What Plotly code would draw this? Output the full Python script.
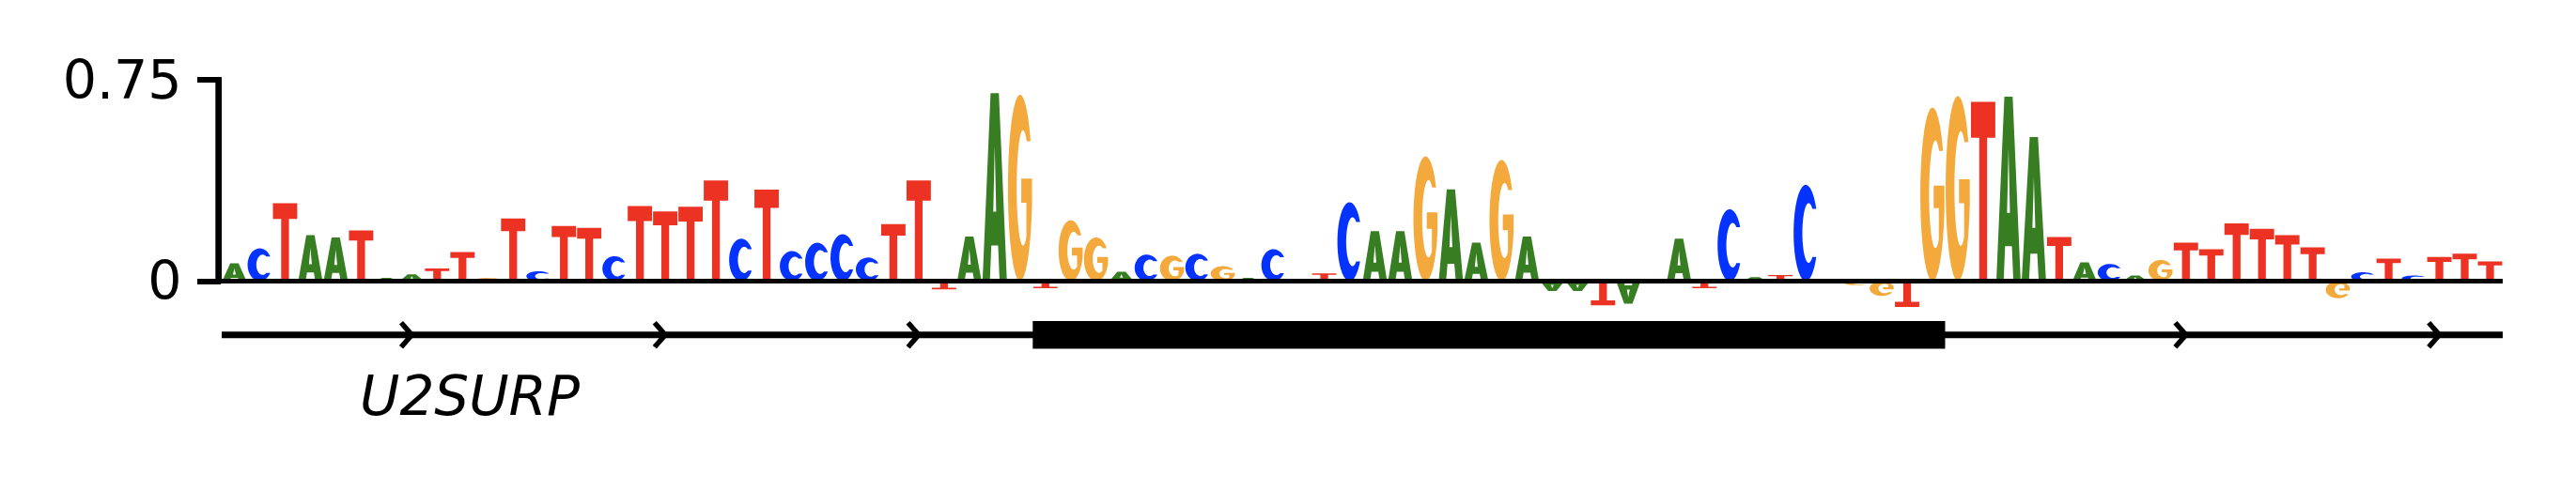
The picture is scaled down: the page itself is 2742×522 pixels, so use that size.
import numpy as np
import plotly.graph_objects as go

# ---------------- data ----------------
SEQUENCE = list("ACTAATAATT" "GTCTTCTTTT" "CTCCCCTTTA" "AGTGGACGCG" "ACGTCAAGAA"
                "GAAATAGATC" "ATCTGGTGGT" "AATACAGTTT" "TTTGCTCTTT")
SCORES = [0.066, 0.122, 0.29, 0.171, 0.163, 0.189, 0.012, 0.025, 0.047, 0.108,
          0.012, 0.233, 0.037, 0.205, 0.198, 0.093, 0.28, 0.26, 0.277, 0.375,
          0.158, 0.341, 0.112, 0.143, 0.175, 0.088, 0.212, 0.375, -0.031, 0.166,
          0.70, 0.695, -0.026, 0.227, 0.163, 0.035, 0.099, 0.095, 0.102, 0.056,
          0.012, 0.119, 0.008, 0.029, 0.294, 0.186, 0.186, 0.465, 0.342, 0.143,
          0.452, 0.166, -0.037, -0.037, -0.09, -0.084, 0.008, 0.158, -0.026, 0.268,
          0.015, 0.023, 0.359, -0.005, -0.015, -0.055, -0.096, 0.647, 0.69, 0.668,
          0.687, 0.537, 0.164, 0.07, 0.064, 0.021, 0.079, 0.143, 0.119, 0.215,
          0.195, 0.171, 0.126, -0.064, 0.033, 0.084, 0.021, 0.09, 0.102, 0.073]
POSITIONS = list(range(len(SEQUENCE)))
Y_TICKS = [0, 0.75]
Y_TICK_LABELS = ["0", "0.75"]
GENE_NAME = "U2SURP"
EXON_FIRST, EXON_LAST = 32, 67          # exon spans these logo positions
INTRON_ARROWS = [7, 17, 27, 77, 87]      # strand arrows (+ strand)
GENE_LABEL_X = 9.3

# ---------------- style ----------------
COLORS = {"A": "#377d22", "C": "#0433ff", "G": "#f3a93c", "T": "#eb3223"}
FONT = "DejaVu Sans"
PAGE_MARGIN = 8                      # default body margin of the html page
W, H = 2742 - 2 * PAGE_MARGIN, 522 - 2 * PAGE_MARGIN
ML = 236 - PAGE_MARGIN
PLOT_W = 2428
MR = W - ML - PLOT_W
PX_PER_UNIT = 286.0
ZERO_PX = 299.5 - PAGE_MARGIN
Y_TOP = ZERO_PX / PX_PER_UNIT
Y_BOT = -(H - ZERO_PX) / PX_PER_UNIT
PAD = 0.02


def arc(cx, cy, rx, ry, a0, a1, n=32):
    t = np.radians(np.linspace(a0, a1, n))
    return list(zip(cx + rx * np.cos(t), cy + ry * np.sin(t)))


# glyph templates in a unit box (first polygon outer, others holes)
GLYPHS = {
    "T": [[(0, 1), (1, 1), (1, 0.80), (0.66, 0.80), (0.66, 0), (0.34, 0), (0.34, 0.80), (0, 0.80)]],
    "A": [[(0, 0), (0.33, 1), (0.67, 1), (1, 0), (0.70, 0), (0.64, 0.19), (0.36, 0.19), (0.30, 0)],
          [(0.44, 0.37), (0.56, 0.37), (0.5, 0.72)]],
    "C": [arc(0.5, 0.5, 0.5, 0.5, 30, 330) + arc(0.62, 0.5, 0.26, 0.31, -53.7, -306.3)],
    "G": [arc(0.5, 0.5, 0.5, 0.5, 30, 350)
          + [(0.99, 0.55), (0.55, 0.55), (0.55, 0.42), (0.76, 0.42)]
          + arc(0.62, 0.5, 0.26, 0.31, -57.4, -306.3)],
}


def glyph_path(letter, pos, val):
    parts = []
    for poly in GLYPHS[letter]:
        pts = [(pos - 0.5 + PAD + u * (1 - 2 * PAD), w * val) for u, w in poly]
        parts.append("M " + " L ".join(f"{x:.4f},{y:.5f}" for x, y in pts) + " Z")
    return " ".join(parts)


def y_paper(v):
    return (v - Y_BOT) / (Y_TOP - Y_BOT)


fig = go.Figure()
fig.add_trace(go.Scatter(x=[POSITIONS[0], POSITIONS[-1]], y=[0, 0], mode="lines",
                         line=dict(width=0), hoverinfo="skip", showlegend=False))

shapes = []
for pos, letter, val in zip(POSITIONS, SEQUENCE, SCORES):
    shapes.append(dict(type="path", xref="x", yref="y", path=glyph_path(letter, pos, val),
                       fillcolor=COLORS[letter], line=dict(width=0), fillrule="evenodd",
                       layer="above"))

x_lo, x_hi = POSITIONS[0] - 0.5, POSITIONS[-1] + 0.5
# baseline
shapes.append(dict(type="line", xref="x", yref="y", x0=x_lo, x1=x_hi, y0=0, y1=0,
                   line=dict(color="black", width=5), layer="above"))
# y spine (bounded to tick range), paper-referenced so it is not clipped
ext = 2.85 / PX_PER_UNIT
spine_x = -3.35 / PLOT_W
shapes.append(dict(type="line", xref="paper", yref="paper", x0=spine_x, x1=spine_x,
                   y0=y_paper(Y_TICKS[0] - ext), y1=y_paper(Y_TICKS[-1] + ext),
                   line=dict(color="black", width=6.7), layer="above"))

# gene track
GENE_Y = -0.2
shapes.append(dict(type="line", xref="x", yref="y", x0=x_lo, x1=x_hi, y0=GENE_Y, y1=GENE_Y,
                   line=dict(color="black", width=7), layer="above"))
shapes.append(dict(type="rect", xref="x", yref="y", x0=EXON_FIRST - 0.5, x1=EXON_LAST + 0.5,
                   y0=GENE_Y - 0.0514, y1=GENE_Y + 0.0514, fillcolor="black",
                   line=dict(width=0), layer="above"))
for a in INTRON_ARROWS:
    shapes.append(dict(type="path", xref="x", yref="y",
                       path=f"M {a-0.42},{GENE_Y+0.0455} L {a},{GENE_Y} L {a-0.42},{GENE_Y-0.0455}",
                       line=dict(color="black", width=5.5), layer="above"))

fig.update_layout(
    width=W, height=H, template="none",
    margin=dict(l=ML, r=MR, t=0, b=0, pad=0),
    paper_bgcolor="white", plot_bgcolor="white",
    showlegend=False,
    shapes=shapes,
    xaxis=dict(range=[x_lo, x_hi], visible=False, showgrid=False, zeroline=False,
               automargin=False),
    yaxis=dict(range=[Y_BOT, Y_TOP], tickvals=Y_TICKS, ticktext=Y_TICK_LABELS,
               ticks="outside", ticklen=25, tickwidth=5.7, tickcolor="black",
               showline=False, showgrid=False, zeroline=False, automargin=False,
               ticklabelstandoff=5,
               tickfont=dict(family=FONT, size=57, color="black")),
    annotations=[dict(x=GENE_LABEL_X, y=(ZERO_PX - 414) / PX_PER_UNIT, xref="x", yref="y",
                      text=GENE_NAME, showarrow=False, xanchor="center", yanchor="middle",
                      font=dict(family=FONT, size=58, color="black", style="italic"))],
)

fig.write_html("out.html")
